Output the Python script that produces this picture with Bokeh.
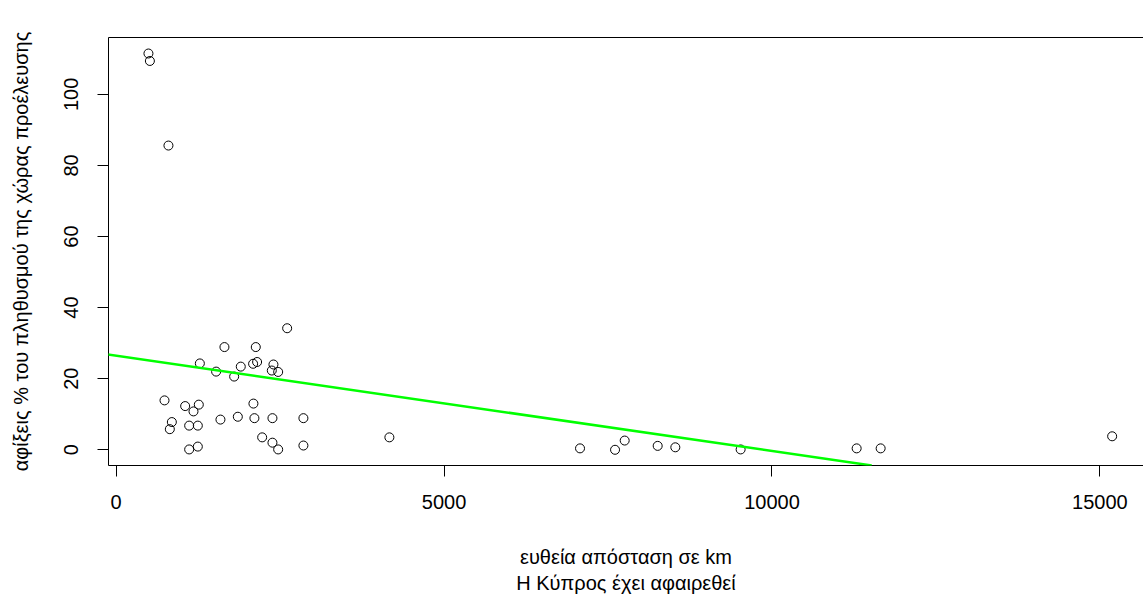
from bokeh.plotting import figure
from bokeh.models import Range1d, LinearAxis, Slope, FixedTicker
from bokeh.embed import file_html
from bokeh.resources import INLINE

# distance in km (Cyprus removed)
distance_km = [492, 514, 797,
               2607, 1651, 2129, 1276, 1524, 1799, 1900, 2088, 2149, 2398, 2373, 2470,
               737, 1052, 1260, 1179, 2093, 849, 818, 1113, 1245, 1590, 1855, 2108,
               2383, 2855, 2226, 2383, 2470, 2855, 1113, 1245,
               4166, 7073, 7607, 7754, 8257, 8526, 9522,
               11291, 11657, 15187]
# arrivals as % of origin country population
arrivals_pct = [111.5, 109.4, 85.6,
                34.2, 28.9, 28.9, 24.3, 22.0, 20.6, 23.4, 24.2, 24.7, 24.0, 22.3, 21.9,
                13.9, 12.3, 12.7, 10.8, 13.0, 7.8, 5.8, 6.8, 6.8, 8.5, 9.3, 8.9,
                8.9, 8.9, 3.5, 2.0, 0.1, 1.2, 0.1, 0.9,
                3.5, 0.4, 0.0, 2.6, 1.1, 0.7, 0.1,
                0.4, 0.4, 3.8]
# fitted regression line
fit_intercept = 26.49
fit_slope = -0.002683

x_ticks = [0, 5000, 10000, 15000]
y_ticks = [0, 20, 40, 60, 80, 100]

FONT = "Liberation Sans"
FS = "20px"

p = figure(width=1143, height=596, output_backend="svg", toolbar_location=None,
           x_range=Range1d(-117, 15665), y_range=Range1d(-4.42, 116.0),
           min_border_left=108, min_border_right=0, min_border_top=37,
           min_border_bottom=131)
p.grid.visible = False
p.outline_line_color = None
p.background_fill_color = "white"
p.border_fill_color = "white"

p.scatter(distance_km, arrivals_pct, marker="circle", size=9,
          fill_color=None, line_color="black", line_width=1)

p.add_layout(Slope(gradient=fit_slope, y_intercept=fit_intercept,
                   line_color="#00FF00", line_width=2.5))

for ax in (p.xaxis[0], p.yaxis[0]):
    ax.axis_line_color = "black"
    ax.major_tick_line_color = "black"
    ax.minor_tick_line_color = None
    ax.major_tick_out = 11
    ax.major_tick_in = 0
    ax.major_label_text_font = FONT
    ax.major_label_text_font_size = FS
    ax.major_label_text_color = "black"
    ax.axis_label_text_font = FONT
    ax.axis_label_text_font_size = FS
    ax.axis_label_text_font_style = "normal"
    ax.axis_label_text_color = "black"

p.xaxis[0].ticker = FixedTicker(ticks=x_ticks)
p.yaxis[0].ticker = FixedTicker(ticks=y_ticks)
p.xaxis[0].major_label_standoff = 18
p.xaxis[0].axis_label = "ευθεία απόσταση σε km\nΗ Κύπρος έχει αφαιρεθεί"
p.xaxis[0].axis_label_standoff = 34
p.xaxis[0].axis_label_text_line_height = 1.2
p.yaxis[0].major_label_standoff = 19
p.yaxis[0].major_label_orientation = "vertical"
p.yaxis[0].axis_label = "αφίξεις % του πληθυσμού της χώρας προέλευσης"
p.yaxis[0].axis_label_standoff = 30

top = LinearAxis(ticker=FixedTicker(ticks=[]), axis_line_color="black",
                 major_tick_line_color=None, minor_tick_line_color=None,
                 major_label_text_font_size="0px")
p.add_layout(top, "above")

open("out.html", "w").write(file_html(p, INLINE))
